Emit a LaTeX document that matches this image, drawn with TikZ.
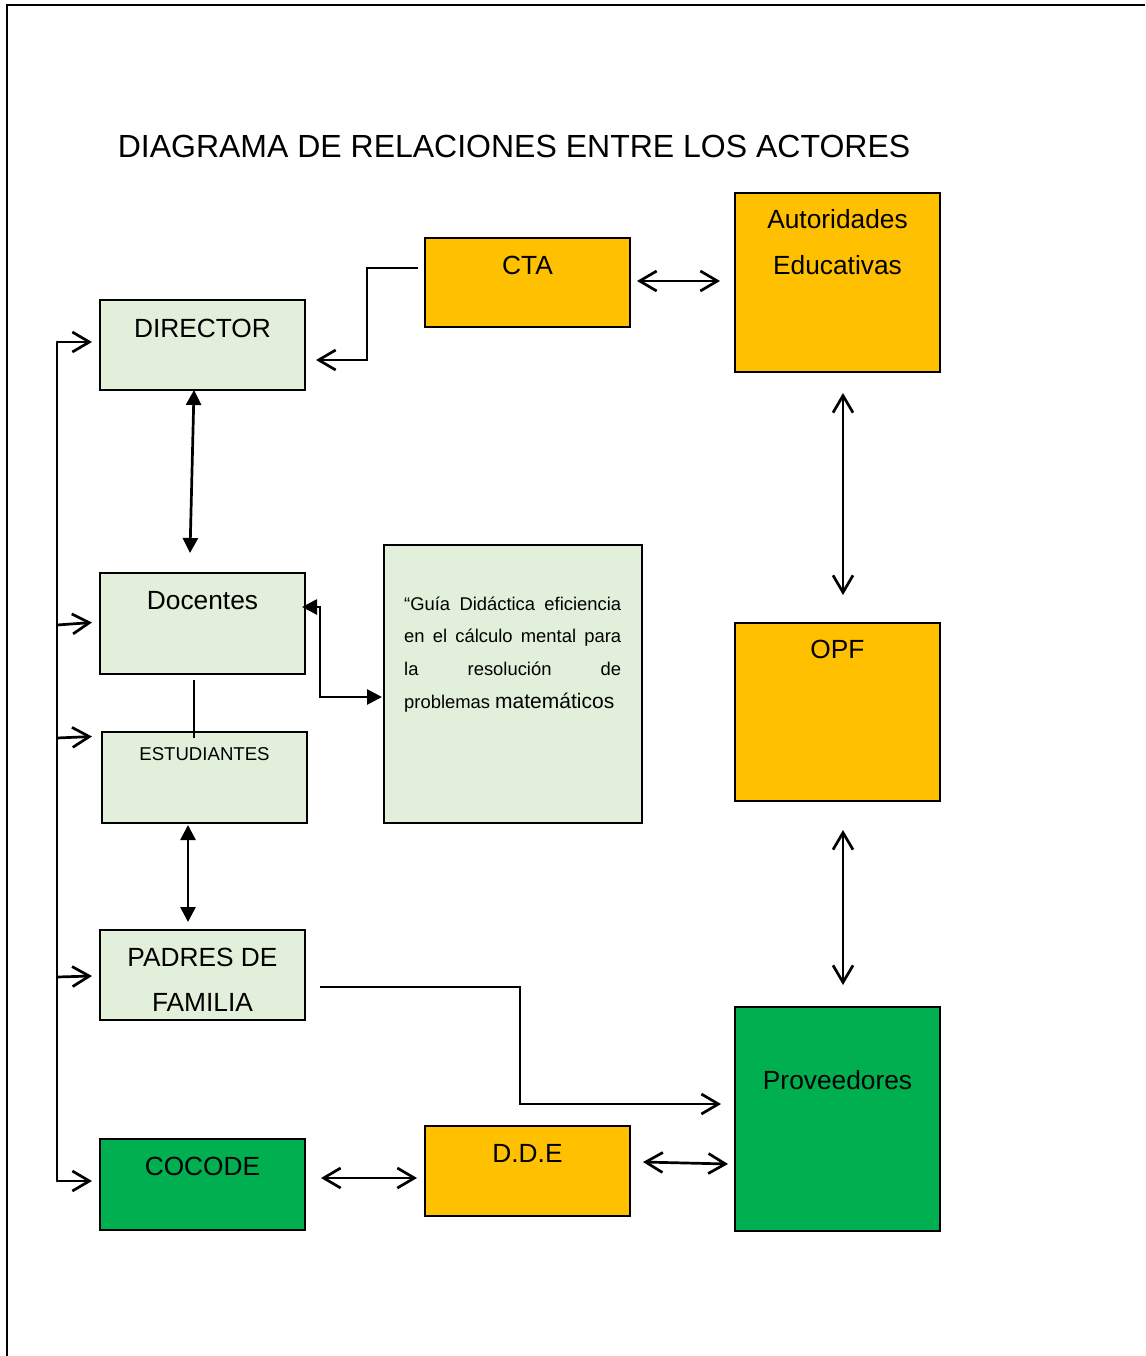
\documentclass[tikz,border=0pt]{standalone}
\usepackage{fontspec}
\setmainfont{Liberation Sans}
\usetikzlibrary{arrows.meta,calc}
\definecolor{lgreen}{HTML}{E2EFDA}
\definecolor{gold}{HTML}{FFC000}
\definecolor{dgreen}{HTML}{00B050}
\newcommand{\myfs}[1]{\fontsize{#1}{#1}\selectfont}
\begin{document}
\begin{tikzpicture}[x=1pt,y=-1pt,
  box/.style={draw=black, line width=2pt, minimum width=205pt, anchor=north west, inner sep=0pt, outer sep=0pt},
  lbl/.style={anchor=base, inner sep=0pt, font=\myfs{26.3}},
  glbl/.style={anchor=base west, inner sep=0pt, font=\myfs{18.4}},
  conn/.style={line width=2.7pt},
  thin/.style={line width=1.3pt},
  oa/.style={conn, -{Straight Barb[length=17pt,width=20pt]}},
  oaa/.style={conn, {Straight Barb[length=17pt,width=20pt]}-{Straight Barb[length=17pt,width=20pt]}},
  faa/.style={conn, {Triangle[length=15pt,width=15pt]}-{Triangle[length=15pt,width=15pt]}}
]
\useasboundingbox (0,0) rectangle (1145,1356);
% page border
\draw[line width=2pt] (7,1356) -- (7,5) -- (1145,5);
% title
\node[anchor=base, inner sep=0pt, font=\myfs{32}] (title) at (514,158) {DIAGRAMA DE RELACIONES ENTRE LOS ACTORES};
% boxes
\node[box, fill=gold, minimum height=89pt] (cta) at (425,238) {};
\node[box, fill=gold, minimum height=179pt] (aut) at (735,193) {};
\node[box, fill=lgreen, minimum height=90pt] (dir) at (100,300) {};
\node[box, fill=lgreen, minimum height=101pt] (doc) at (100,573) {};
\node[box, fill=lgreen, minimum height=91pt] (est) at (102,732) {};
\node[box, fill=lgreen, minimum width=258pt, minimum height=278pt] (guide) at (384,545) {};
\node[box, fill=gold, minimum height=178pt] (opf) at (735,623) {};
\node[box, fill=lgreen, minimum height=90pt] (pad) at (100,930) {};
\node[box, fill=dgreen, minimum height=91pt] (coc) at (100,1139) {};
\node[box, fill=gold, minimum height=90pt] (dde) at (425,1126) {};
\node[box, fill=dgreen, minimum height=224pt] (prov) at (735,1007) {};
% labels
\node[lbl] (ctaT) at (527.5,274) {CTA};
\node[lbl] (autT1) at (837.5,229) {Autoridades};
\node[lbl] (autT2) at (837.5,274) {Educativas};
\node[lbl] (dirT) at (202.5,337) {DIRECTOR};
\node[lbl] (docT) at (202.5,609) {Docentes};
\node[lbl, font=\myfs{18.6}] (estT) at (204.5,760) {ESTUDIANTES};
\node[lbl] (opfT) at (837.5,658) {OPF};
\node[lbl] (padT1) at (202.5,966) {PADRES DE};
\node[lbl] (padT2) at (202.5,1011) {FAMILIA};
\node[lbl] (cocT) at (202.5,1175) {COCODE};
\node[lbl] (ddeT) at (527.5,1162) {D.D.E};
\node[lbl] (provT) at (837.5,1089) {Proveedores};
\node[glbl] (g1) at (404,610) {\makebox[217pt][s]{“Guía Didáctica eficiencia}};
\node[glbl] (g2) at (404,642) {\makebox[217pt][s]{en el cálculo mental para}};
\node[glbl] (g3) at (404,675) {\makebox[217pt][s]{la resolución de}};
\node[glbl] (g4) at (404,708) {problemas {\myfs{21}matemáticos}};
% connectors
\draw[oa] ([shift={(-7,-14.5)}]cta.west) -- ++(-51,0) |- ([shift={(11,15)}]dir.east);
\draw[oaa] ([shift={(7,-1.5)}]cta.east) -- ([shift={(-15,-1.5)}]aut.west);
\draw[faa] ([shift={(-8.5,0)}]dir.south) -- ([shift={(-12.5,-20)}]doc.north);
\draw[faa] ([shift={(-3,-16.5)}]doc.east) -- ++(18,0) |- ([shift={(-2,13)}]guide.west);
\draw[thin] ([shift={(-8.5,6)}]doc.south) -- ([shift={(-10.5,6)}]est.north);
\draw[faa] ([shift={(-16.5,2)}]est.south) -- ([shift={(-14.5,-8)}]pad.north);
\draw[oaa] ([shift={(5.5,21)}]aut.south) -- ([shift={(5.5,-28)}]opf.north);
\draw[oaa] ([shift={(5.5,29)}]opf.south) -- ([shift={(5.5,-22)}]prov.north);
\draw[oa] ([shift={(15,12)}]pad.east) -- ++(200,0) |- ([shift={(-14,-15)}]prov.west);
\draw[oaa] ([shift={(16,-6.5)}]coc.east) -- ([shift={(-8,7)}]dde.west);
\draw[oaa] ([shift={(13,-9)}]dde.east) -- ([shift={(-7,45)}]prov.west);
% left bus
\coordinate (b1) at (57,342);
\coordinate (b2) at (57,625);
\coordinate (b3) at (57,738);
\coordinate (b4) at (57,977);
\coordinate (b5) at (57,1181);
\draw[conn, line cap=round] (b1) -- (b5);
\draw[oa] (b1) -- ([shift={(-8,-3)}]dir.west);
\draw[oa] (b2) -- ([shift={(-8,-1)}]doc.west);
\draw[oa] (b3) -- ([shift={(-10,-41)}]est.west);
\draw[oa] (b4) -- ([shift={(-8,1)}]pad.west);
\draw[oa] (b5) -- ([shift={(-8,-3.5)}]coc.west);
\end{tikzpicture}
\end{document}
